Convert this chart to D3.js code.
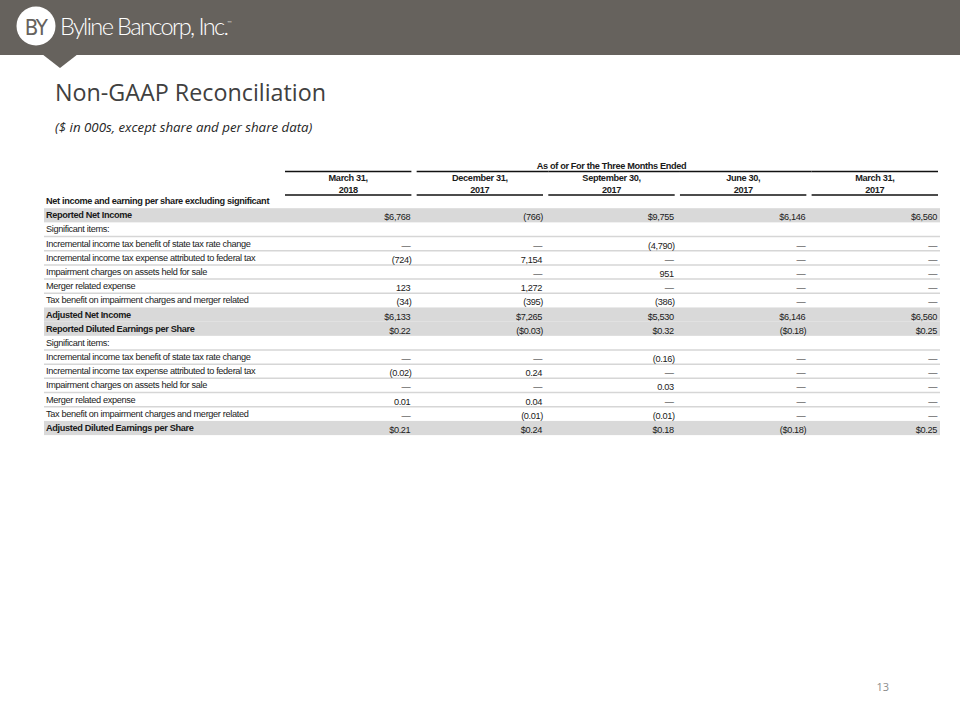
<!DOCTYPE html>
<html>
<head>
<meta charset="utf-8">
<script src="https://cdn.jsdelivr.net/npm/d3@7"></script>
<style>
  html, body { margin: 0; padding: 0; background: #fff; }
  svg { display: block; }
</style>
</head>
<body>
<div id="chart"></div>
<script>
// ---- Data ----
const companyName = "Byline Bancorp, Inc.";
const title = "Non-GAAP Reconciliation";
const subtitle = "($ in 000s,  except share and per share data)";
const groupHeader = "As of or For the Three Months Ended";
const pageNumber = "13";

const columnLine1 = ["March 31,", "December 31,", "September 30,", "June 30,", "March 31,"];
const columnLine2 = ["2018", "2017", "2017", "2017", "2017"];

const rowLabels = [
  "Net income and earning per share excluding significant",
  "Reported Net Income",
  "Significant items:",
  "Incremental income tax benefit of state tax rate change",
  "Incremental income tax expense attributed to federal tax",
  "Impairment charges on assets held for sale",
  "Merger related expense",
  "Tax benefit on impairment charges and merger related",
  "Adjusted Net Income",
  "Reported Diluted Earnings per Share",
  "Significant items:",
  "Incremental income tax benefit of state tax rate change",
  "Incremental income tax expense attributed to federal tax",
  "Impairment charges on assets held for sale",
  "Merger related expense",
  "Tax benefit on impairment charges and merger related",
  "Adjusted Diluted Earnings per Share"
];
// row kinds: "heading" bold no shading, "band" bold shaded, "plain", "section"
const rowKinds = ["heading","band","section","plain","plain","plain","plain","plain","band","band","section","plain","plain","plain","plain","plain","band"];

const valuesMar2018 = ["", "$6,768", "", "\u2014", "(724)", "", "123", "(34)", "$6,133", "$0.22", "", "\u2014", "(0.02)", "\u2014", "0.01", "\u2014", "$0.21"];
const valuesDec2017 = ["", "(766)", "", "\u2014", "7,154", "\u2014", "1,272", "(395)", "$7,265", "($0.03)", "", "\u2014", "0.24", "\u2014", "0.04", "(0.01)", "$0.24"];
const valuesSep2017 = ["", "$9,755", "", "(4,790)", "\u2014", "951", "\u2014", "(386)", "$5,530", "$0.32", "", "(0.16)", "\u2014", "0.03", "\u2014", "(0.01)", "$0.18"];
const valuesJun2017 = ["", "$6,146", "", "\u2014", "\u2014", "\u2014", "\u2014", "\u2014", "$6,146", "($0.18)", "", "\u2014", "\u2014", "\u2014", "\u2014", "\u2014", "($0.18)"];
const valuesMar2017 = ["", "$6,560", "", "\u2014", "\u2014", "\u2014", "\u2014", "\u2014", "$6,560", "$0.25", "", "\u2014", "\u2014", "\u2014", "\u2014", "\u2014", "$0.25"];
const seriesValues = [valuesMar2018, valuesDec2017, valuesSep2017, valuesJun2017, valuesMar2017];

// ---- Drawing ----
const W = 960, H = 720;
const svg = d3.select("#chart").append("svg").attr("width", W).attr("height", H);

const barColor = "#66625d";
// Header bar
svg.append("rect").attr("x", 0).attr("y", 0).attr("width", W).attr("height", 55).attr("fill", barColor);
svg.append("path").attr("d", "M42,54 L78,54 L60,68 Z").attr("fill", barColor);
svg.append("circle").attr("cx", 36).attr("cy", 26).attr("r", 19.5).attr("fill", "#fff");
svg.append("text").attr("x", 35.5).attr("y", 34.5).attr("text-anchor", "middle")
  .attr("font-family", "'Liberation Sans Narrow', 'DejaVu Sans Condensed', sans-serif")
  .attr("font-size", 22).attr("font-weight", 400).attr("letter-spacing", -1.5)
  .attr("fill", barColor).text("BY");
const logoText = svg.append("text").attr("x", 60).attr("y", 35)
  .attr("font-family", "Lato, 'Open Sans', sans-serif").attr("font-weight", 300)
  .attr("font-size", 23.5).attr("letter-spacing", -1.6).attr("fill", "#fff");
logoText.append("tspan").text(companyName);
logoText.append("tspan").attr("font-size", 6).attr("dy", -10).attr("letter-spacing", 0).text("\u2122");

// Title & subtitle
svg.append("text").attr("x", 55).attr("y", 101)
  .attr("font-family", "'Open Sans', sans-serif").attr("font-size", 23.3)
  .attr("fill", "#404040").text(title);
svg.append("text").attr("x", 55).attr("y", 132)
  .attr("font-family", "'Open Sans', sans-serif").attr("font-style", "italic")
  .attr("font-size", 13.3).attr("fill", "#262626").text(subtitle);

// Scales
const x = d3.scaleBand().domain(d3.range(columnLine1.length)).range([285, 938]).paddingInner(0.04);
const y = d3.scaleBand().domain(d3.range(rowLabels.length)).range([194, 435.1]);

const tableFont = "'Liberation Sans', Arial, sans-serif";
const fs = 9.2;
const ls = -0.35;
const textColor = "#1a1a1a";

// Shaded bands
svg.append("g").selectAll("rect")
  .data(rowKinds.map((k, i) => ({k, i})).filter(d => d.k === "band"))
  .join("rect")
  .attr("x", 44).attr("width", 896)
  .attr("y", d => y(d.i)).attr("height", y.bandwidth())
  .attr("fill", "#d9d9d9");

// Separator lines: below section rows and plain rows (not before a band)
const sepRows = d3.range(rowLabels.length).filter(i =>
  (rowKinds[i] === "section" || rowKinds[i] === "plain") && rowKinds[i + 1] === "plain");
svg.append("g").selectAll("line").data(sepRows).join("line")
  .attr("x1", 44).attr("x2", 940)
  .attr("y1", d => y(d) + y.bandwidth()).attr("y2", d => y(d) + y.bandwidth())
  .attr("stroke", "#d6d6d6").attr("stroke-width", 1.5);

// Column header rules
const headTop = 171.5, headBottom = 195;
svg.append("g").selectAll("line").data(d3.range(columnLine1.length)).join("line")
  .attr("x1", d => x(d)).attr("x2", d => (d === 0 ? x(d) + x.bandwidth() : (d < columnLine1.length - 1 ? x(d + 1) : x(d) + x.bandwidth())))
  .attr("y1", headTop).attr("y2", headTop)
  .attr("stroke", "#111").attr("stroke-width", 1.3);
svg.append("g").selectAll("line").data(d3.range(columnLine1.length)).join("line")
  .attr("x1", d => x(d)).attr("x2", d => x(d) + x.bandwidth())
  .attr("y1", headBottom).attr("y2", headBottom)
  .attr("stroke", "#111").attr("stroke-width", 1.3);

// Group header
svg.append("text").attr("x", (x(0) + x(4) + x.bandwidth()) / 2).attr("y", 168.5)
  .attr("text-anchor", "middle").attr("font-family", tableFont).attr("font-size", fs)
  .attr("font-weight", "bold").attr("letter-spacing", ls).attr("fill", textColor)
  .text(groupHeader);

// Column headers
const colHead = svg.append("g").attr("font-family", tableFont).attr("font-size", fs)
  .attr("font-weight", "bold").attr("letter-spacing", ls).attr("fill", textColor)
  .attr("text-anchor", "middle");
colHead.selectAll("text.l1").data(columnLine1).join("text").attr("class", "l1")
  .attr("x", (d, i) => x(i) + x.bandwidth() / 2).attr("y", 181).text(d => d);
colHead.selectAll("text.l2").data(columnLine2).join("text").attr("class", "l2")
  .attr("x", (d, i) => x(i) + x.bandwidth() / 2).attr("y", 192.5).text(d => d);

// Row labels
svg.append("g").attr("font-family", tableFont).attr("font-size", fs)
  .attr("letter-spacing", ls).attr("fill", textColor)
  .selectAll("text").data(rowLabels).join("text")
  .attr("x", 46)
  .attr("y", (d, i) => y(i) + y.bandwidth() / 2 + 3)
  .attr("font-weight", (d, i) => (rowKinds[i] === "band" || rowKinds[i] === "heading") ? "bold" : "normal")
  .text(d => d);

// Values
const cells = [];
seriesValues.forEach((col, c) => col.forEach((v, r) => { if (v) cells.push({c, r, v}); }));
svg.append("g").attr("font-family", tableFont).attr("font-size", fs)
  .attr("letter-spacing", ls).attr("fill", textColor).attr("text-anchor", "end")
  .selectAll("text").data(cells).join("text")
  .attr("x", d => x(d.c) + x.bandwidth() - 1 + (d.v.endsWith(")") ? 1 : 0))
  .attr("y", d => y(d.r) + y.bandwidth() / 2 + 5)
  .text(d => d.v);

// Page number
svg.append("text").attr("x", 889).attr("y", 691).attr("text-anchor", "end")
  .attr("font-family", "'Open Sans', sans-serif").attr("font-size", 11)
  .attr("fill", "#8c8c8c").text(pageNumber);
</script>
</body>
</html>
